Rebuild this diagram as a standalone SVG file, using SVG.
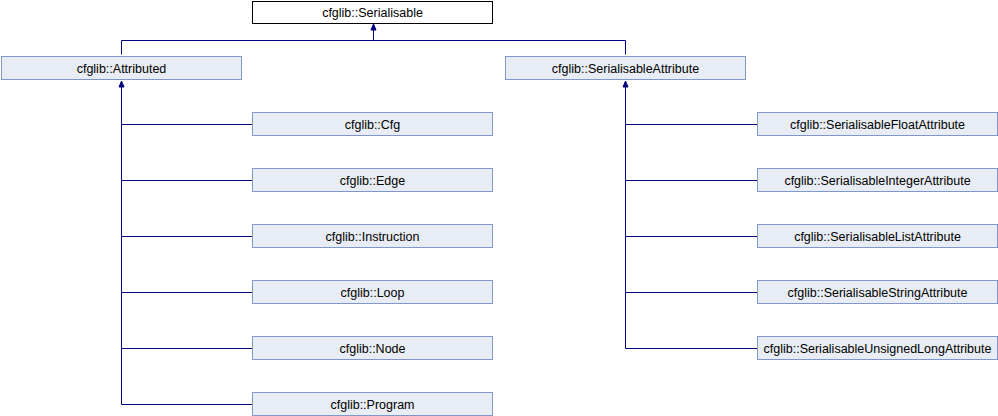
<svg xmlns="http://www.w3.org/2000/svg" width="998" height="416" viewBox="0 0 998 416">
<style>
.n rect{fill:#e8ecf4;stroke:#7f97cc;stroke-width:1}
.r rect{fill:#ffffff;stroke:#000000;stroke-width:1}
text{font-family:"Liberation Sans",Arial,sans-serif;font-size:12.5px;fill:#000;text-anchor:middle}
.c path{fill:none;stroke:#000080;stroke-width:1}
.c polygon{fill:#000080;stroke:#000080;stroke-width:1}
</style>
<rect width="998" height="416" fill="#fff"/>
<g class="c" id="connectors">
<path d="M121.5,54.5 V40.5 H625.5 V54.5"/>
<path d="M373.5,40.5 V26"/>
<polygon points="373.5,24 371,30 376,30"/>
<path d="M121.5,82 V404.5 H252"/>
<path d="M121.5,124.5 H252 M121.5,180.5 H252 M121.5,236.5 H252 M121.5,292.5 H252 M121.5,348.5 H252"/>
<polygon points="121.5,81 119,87 124,87"/>
<path d="M625.5,82 V348.5 H757"/>
<path d="M625.5,124.5 H757 M625.5,180.5 H757 M625.5,236.5 H757 M625.5,292.5 H757"/>
<polygon points="625.5,81 623,87 628,87"/>
</g>
<g class="r" id="Serialisable"><rect x="252.5" y="1.5" width="240" height="22"/><text x="372.5" y="17">cfglib::Serialisable</text></g>
<g class="n" id="Attributed"><rect x="1.5" y="56.5" width="240" height="23"/><text x="121.5" y="72.5">cfglib::Attributed</text></g>
<g class="n" id="SerialisableAttribute"><rect x="505.5" y="56.5" width="240" height="23"/><text x="625.5" y="72.5">cfglib::SerialisableAttribute</text></g>
<g class="n" id="Cfg"><rect x="252.5" y="112.5" width="240" height="23"/><text x="372.5" y="128.5">cfglib::Cfg</text></g>
<g class="n" id="Edge"><rect x="252.5" y="168.5" width="240" height="23"/><text x="372.5" y="184.5">cfglib::Edge</text></g>
<g class="n" id="Instruction"><rect x="252.5" y="224.5" width="240" height="23"/><text x="372.5" y="240.5">cfglib::Instruction</text></g>
<g class="n" id="Loop"><rect x="252.5" y="280.5" width="240" height="23"/><text x="372.5" y="296.5">cfglib::Loop</text></g>
<g class="n" id="Node"><rect x="252.5" y="336.5" width="240" height="23"/><text x="372.5" y="352.5">cfglib::Node</text></g>
<g class="n" id="Program"><rect x="252.5" y="392.5" width="240" height="23"/><text x="372.5" y="408.5">cfglib::Program</text></g>
<g class="n" id="SerialisableFloatAttribute"><rect x="757.5" y="112.5" width="240" height="23"/><text x="877.5" y="128.5">cfglib::SerialisableFloatAttribute</text></g>
<g class="n" id="SerialisableIntegerAttribute"><rect x="757.5" y="168.5" width="240" height="23"/><text x="877.5" y="184.5">cfglib::SerialisableIntegerAttribute</text></g>
<g class="n" id="SerialisableListAttribute"><rect x="757.5" y="224.5" width="240" height="23"/><text x="877.5" y="240.5">cfglib::SerialisableListAttribute</text></g>
<g class="n" id="SerialisableStringAttribute"><rect x="757.5" y="280.5" width="240" height="23"/><text x="877.5" y="296.5">cfglib::SerialisableStringAttribute</text></g>
<g class="n" id="SerialisableUnsignedLongAttribute"><rect x="757.5" y="336.5" width="240" height="23"/><text x="877.5" y="352.5">cfglib::SerialisableUnsignedLongAttribute</text></g>
</svg>
